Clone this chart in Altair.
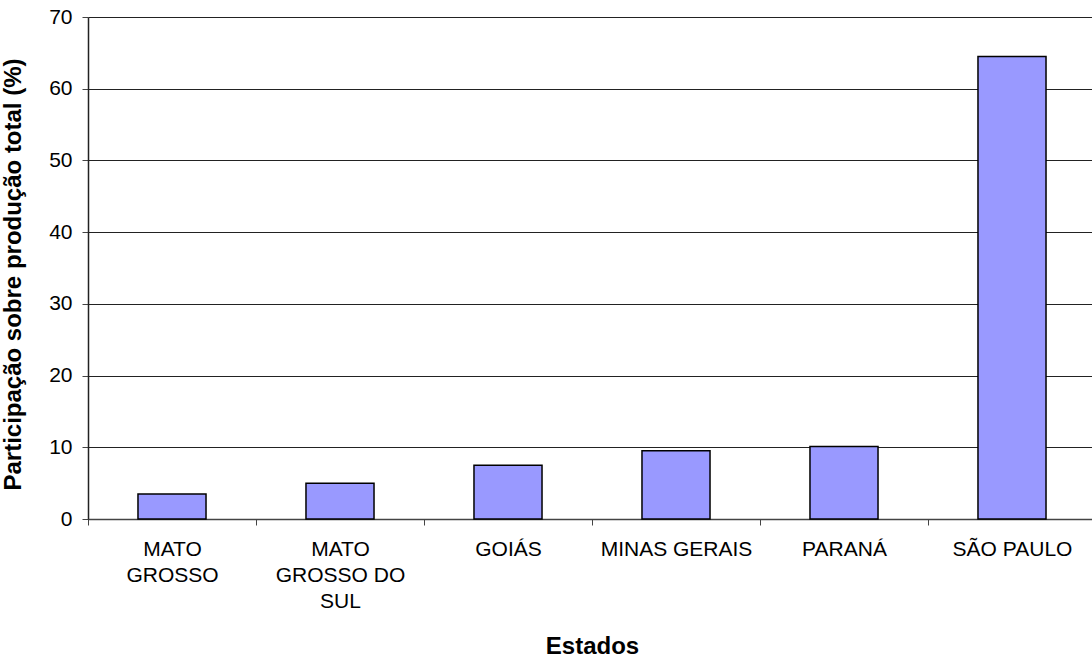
import altair as alt
import pandas as pd

# Share of total production by state (%)
estados = ["MATO|GROSSO", "MATO|GROSSO DO|SUL", "GOIÁS", "MINAS GERAIS", "PARANÁ", "SÃO PAULO"]
participacao = [3.5, 5.0, 7.5, 9.5, 10.1, 64.5]
y_ticks = [0, 10, 20, 30, 40, 50, 60, 70]

df = pd.DataFrame({"estado": estados, "participacao": participacao})

FONT = "Liberation Sans"
STEP = 168

bars = alt.Chart(df).mark_bar(
    color="#9999FF", stroke="#000000", strokeWidth=1.5
).encode(
    x=alt.X(
        "estado:N",
        sort=estados,
        scale=alt.Scale(range=[0, STEP * len(estados)], paddingInner=0.595, paddingOuter=0.2975),
        axis=alt.Axis(
            title="Estados",
            labelAngle=0,
            labelExpr="split(datum.label, '|')",
            labelFont=FONT,
            labelFontSize=21,
            labelColor="#000000",
            labelLineHeight=26,
            labelPadding=13,
            labelLimit=300,
            tickSize=6,
            tickColor="#444444",
            tickOffset=-STEP / 2,
            labelOffset=STEP / 2,
            domainColor="#444444",
            domainWidth=1.5,
            titleFont=FONT,
            titleFontSize=24,
            titleFontWeight="bold",
            titleColor="#000000",
            titleBaseline="alphabetic",
            titleY=134,
            grid=False,
        ),
    ),
    y=alt.Y(
        "participacao:Q",
        scale=alt.Scale(domain=[0, 70], nice=False),
        axis=alt.Axis(
            title="Participação sobre produção total (%)",
            values=y_ticks,
            labelFont=FONT,
            labelFontSize=21,
            labelColor="#000000",
            labelPadding=10,
            tickSize=6,
            tickColor="#444444",
            domainColor="#222222",
            domainWidth=1.5,
            gridColor="#222222",
            gridWidth=1,
            grid=True,
            titleFont=FONT,
            titleFontSize=24,
            titleFontWeight="bold",
            titleColor="#000000",
            titleBaseline="alphabetic",
            titleAngle=-90,
            titleX=-68,
            titleY=257,
        ),
    ),
)

chart = bars.properties(
    width=1004,
    height=502,
    autosize=alt.AutoSizeParams(type="none"),
    padding={"left": 88, "top": 17, "right": 0, "bottom": 138},
    background="#FFFFFF",
).configure_view(stroke=None)

chart.save("out.html", embed_options={"renderer": "svg", "actions": False})
